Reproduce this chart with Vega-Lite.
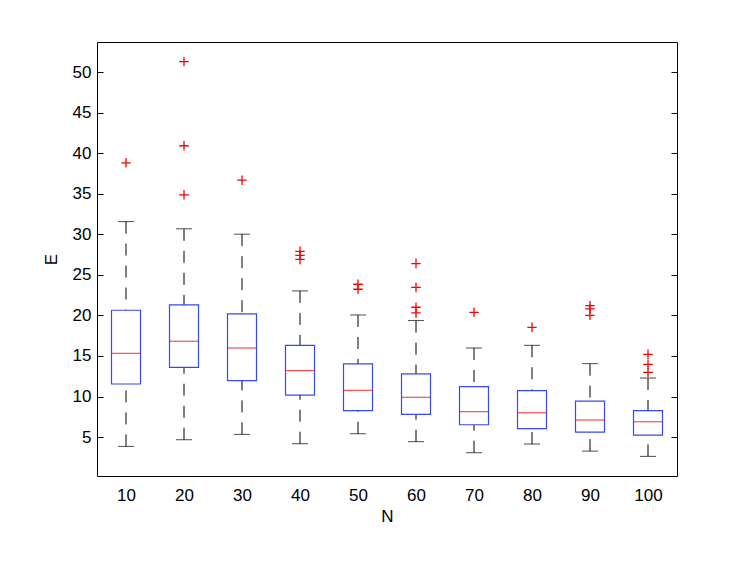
{
  "$schema": "https://vega.github.io/schema/vega-lite/v6.json",
  "autosize": "none",
  "width": 580,
  "height": 434,
  "padding": {"left": 97, "top": 42, "right": 70, "bottom": 86},
  "background": "white",
  "config": {
    "view": {"stroke": "#000000", "strokeWidth": 1},
    "font": "Liberation Sans",
    "axis": {
      "grid": false,
      "domain": false,
      "labelFont": "Liberation Sans",
      "labelFontSize": 17,
      "labelColor": "#000000",
      "titleFont": "Liberation Sans",
      "titleFontSize": 17,
      "titleFontWeight": "normal",
      "titleColor": "#000000",
      "tickColor": "#000000"
    }
  },
  "datasets": {
    "boxes": [
      {"N": 10, "lower": 3.85, "q1": 11.54, "median": 15.32, "q3": 20.63, "upper": 31.56},
      {"N": 20, "lower": 4.67, "q1": 13.6, "median": 16.81, "q3": 21.29, "upper": 30.67},
      {"N": 30, "lower": 5.33, "q1": 11.95, "median": 15.98, "q3": 20.18, "upper": 30.01},
      {"N": 40, "lower": 4.18, "q1": 10.18, "median": 13.19, "q3": 16.31, "upper": 23.02},
      {"N": 50, "lower": 5.41, "q1": 8.25, "median": 10.76, "q3": 14.01, "upper": 20.05},
      {"N": 60, "lower": 4.43, "q1": 7.8, "median": 9.9, "q3": 12.78, "upper": 19.36},
      {"N": 70, "lower": 3.07, "q1": 6.52, "median": 8.13, "q3": 11.21, "upper": 15.98},
      {"N": 80, "lower": 4.14, "q1": 6.03, "median": 8.0, "q3": 10.72, "upper": 16.31},
      {"N": 90, "lower": 3.27, "q1": 5.62, "median": 7.1, "q3": 9.44, "upper": 14.05},
      {"N": 100, "lower": 2.62, "q1": 5.25, "median": 6.89, "q3": 8.25, "upper": 12.28}
    ],
    "outliers": [
      {"N": 10, "E": 38.81},
      {"N": 20, "E": 51.28},
      {"N": 20, "E": 40.91},
      {"N": 20, "E": 34.86},
      {"N": 30, "E": 36.67},
      {"N": 40, "E": 27.9},
      {"N": 40, "E": 27.4},
      {"N": 40, "E": 26.9},
      {"N": 50, "E": 23.84},
      {"N": 50, "E": 23.22},
      {"N": 60, "E": 26.39},
      {"N": 60, "E": 23.45},
      {"N": 60, "E": 21.0},
      {"N": 60, "E": 20.3},
      {"N": 70, "E": 20.38},
      {"N": 80, "E": 18.53},
      {"N": 90, "E": 21.2},
      {"N": 90, "E": 20.8},
      {"N": 90, "E": 20.0},
      {"N": 100, "E": 15.2},
      {"N": 100, "E": 13.97},
      {"N": 100, "E": 12.98}
    ]
  },
  "resolve": {"axis": {"y": "independent", "x": "independent"}},
  "layer": [
    {
      "data": {"name": "boxes"},
      "mark": {"type": "rule", "color": "#000000", "strokeWidth": 1, "strokeDash": [12, 10]},
      "encoding": {
        "x": {"field": "N", "type": "quantitative", "scale": {"domain": [5, 105], "nice": false, "zero": false, "padding": 0},
          "axis": {"values": [10, 20, 30, 40, 50, 60, 70, 80, 90, 100], "ticks": false, "labelPadding": 11, "title": "N", "titlePadding": 5, "labelFlush": false}},
        "y": {"field": "upper", "type": "quantitative", "scale": {"domain": [0.2, 53.7], "nice": false, "zero": false, "padding": 0},
          "axis": {"orient": "left", "values": [5, 10, 15, 20, 25, 30, 35, 40, 45, 50], "tickSize": -6, "labelPadding": 12, "title": "E", "titlePadding": 12, "labelFlush": false}},
        "y2": {"field": "q3"}
      }
    },
    {
      "data": {"name": "boxes"},
      "mark": {"type": "rule", "color": "#000000", "strokeWidth": 1, "strokeDash": [12, 10]},
      "encoding": {
        "x": {"field": "N", "type": "quantitative", "axis": null},
        "y": {"field": "lower", "type": "quantitative", "axis": null},
        "y2": {"field": "q1"}
      }
    },
    {
      "data": {"name": "boxes"},
      "mark": {"type": "tick", "orient": "horizontal", "color": "#000000", "size": 16, "thickness": 1},
      "encoding": {
        "x": {"field": "N", "type": "quantitative", "axis": null},
        "y": {"field": "upper", "type": "quantitative", "axis": null}
      }
    },
    {
      "data": {"name": "boxes"},
      "mark": {"type": "tick", "orient": "horizontal", "color": "#000000", "size": 16, "thickness": 1},
      "encoding": {
        "x": {"field": "N", "type": "quantitative", "axis": null},
        "y": {"field": "lower", "type": "quantitative", "axis": null}
      }
    },
    {
      "data": {"name": "boxes"},
      "mark": {"type": "bar", "size": 29, "fill": "white", "fillOpacity": 0, "stroke": "#3347ff", "strokeWidth": 1.2},
      "encoding": {
        "x": {"field": "N", "type": "quantitative", "axis": null},
        "y": {"field": "q1", "type": "quantitative", "axis": null},
        "y2": {"field": "q3"}
      }
    },
    {
      "data": {"name": "boxes"},
      "mark": {"type": "tick", "orient": "horizontal", "color": "#ff0000", "size": 29, "thickness": 1.2},
      "encoding": {
        "x": {"field": "N", "type": "quantitative", "axis": null},
        "y": {"field": "median", "type": "quantitative", "axis": null}
      }
    },
    {
      "data": {"name": "outliers"},
      "mark": {"type": "point", "shape": "M-1,0L1,0M0,-1L0,1", "filled": false, "stroke": "#ff0000", "strokeWidth": 1.3, "size": 90, "opacity": 1},
      "encoding": {
        "x": {"field": "N", "type": "quantitative", "axis": null},
        "y": {"field": "E", "type": "quantitative", "axis": null}
      }
    },
    {
      "data": {"name": "boxes"},
      "mark": {"type": "point", "opacity": 0},
      "encoding": {
        "x": {"field": "N", "type": "quantitative", "axis": null},
        "y": {"field": "median", "type": "quantitative",
          "axis": {"orient": "right", "values": [5, 10, 15, 20, 25, 30, 35, 40, 45, 50], "tickSize": -6, "labels": false, "title": null}}
      }
    }
  ]
}
